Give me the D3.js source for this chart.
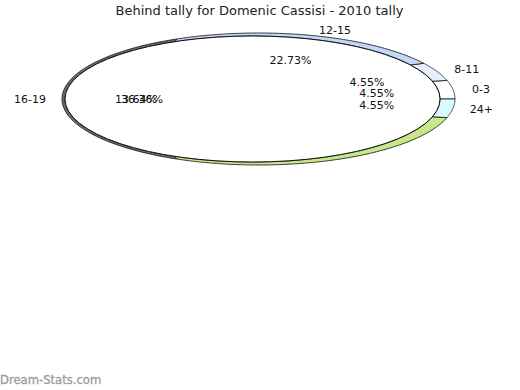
<!DOCTYPE html>
<html><head><meta charset="utf-8">
<script src="https://cdn.jsdelivr.net/npm/d3@7"></script>
<style>body{margin:0;background:#fff}svg{display:block}</style>
</head><body>
<svg id="c" width="520" height="390"></svg>
<script>
const categories = ["0-3", "4-7", "8-11", "12-15", "16-19", "20-23", "24+"];
const values = [1, 0, 1, 5, 8, 6, 1];
const colors = ["#ffffff", "#ffffff", "#e6eefc", "#c4d7f7", "#6e6e6e", "#c8e78a", "#d6fafe"];
const shownLabels = ["0-3", "8-11", "12-15", "16-19", "24+"];
const overlapPct = ["13.64%"];

const svg = d3.select("#c");
const font = "DejaVu Sans, sans-serif";

svg.append("text").attr("x", 259.5).attr("y", 15).attr("text-anchor", "middle")
  .attr("font-family", font).attr("font-size", 13).attr("fill", "#222")
  .text("Behind tally for Domenic Cassisi - 2010 tally");

// pie angles: counter-clockwise from 3 o'clock
const pie = d3.pie().sort(null).value(d => d).startAngle(0).endAngle(2 * Math.PI);
const arcs = pie(values);
const total = d3.sum(values);

const outer = {cx: 258.5, cy: 99, rx: 196.5, ry: 66};
const inner = {cx: 252.5, cy: 99, rx: 187.5, ry: 63};
const pt = (e, t) => [e.cx + e.rx * Math.cos(t), e.cy - e.ry * Math.sin(t)];

const line = d3.line();
arcs.forEach((a, i) => {
  if (a.endAngle - a.startAngle <= 0) return;
  const n = 80, pts = [];
  for (let k = 0; k <= n; k++) pts.push(pt(outer, a.startAngle + (a.endAngle - a.startAngle) * k / n));
  for (let k = n; k >= 0; k--) pts.push(pt(inner, a.startAngle + (a.endAngle - a.startAngle) * k / n));
  svg.append("path").attr("d", line(pts) + "Z")
    .attr("fill", colors[i]).attr("stroke", "#111").attr("stroke-width", 0.8);
});

// top face
svg.append("ellipse").attr("cx", inner.cx).attr("cy", inner.cy).attr("rx", inner.rx).attr("ry", inner.ry)
  .attr("fill", "#fff").attr("stroke", "#111").attr("stroke-width", 1);

// percentage labels
const lab = {cx: 256, cy: 99, rx: 122, ry: 41};
arcs.forEach((a, i) => {
  if (values[i] === 0) return;
  if (categories[i] === "20-23") return;
  const m = (a.startAngle + a.endAngle) / 2;
  let [x, y] = pt(lab, m);
  if (Math.abs(Math.cos(m)) > 0.99 && Math.cos(m) < 0) x += 8;
  svg.append("text").attr("x", x).attr("y", y + 4).attr("text-anchor", "middle")
    .attr("font-family", font).attr("font-size", 11).attr("fill", "#111")
    .text(d3.format(".2f")(values[i] / total * 100) + "%");
});
// overlapping label seen at left
overlapPct.forEach(t => {
  const [x, y] = pt(lab, Math.PI);
  svg.append("text").attr("x", x + 2).attr("y", y + 4).attr("text-anchor", "middle")
    .attr("font-family", font).attr("font-size", 11).attr("fill", "#111").text(t);
});

// category labels
const cl = {cx: 256, cy: 99, rx: 226, ry: 72};
arcs.forEach((a, i) => {
  if (!shownLabels.includes(categories[i])) return;
  const m = (a.startAngle + a.endAngle) / 2;
  const [x, y] = pt(cl, m);
  const t = svg.append("text").attr("y", y + 4)
    .attr("font-family", font).attr("font-size", 11).attr("fill", "#111")
    .text(categories[i]);
  const w = t.node().getComputedTextLength();
  t.attr("x", x - w / 2 * (1 - Math.abs(Math.sin(m))));
});

svg.append("text").attr("x", 0).attr("y", 384)
  .attr("font-family", font).attr("font-size", 11.6).attr("fill", "#9c9c9c")
  .attr("stroke", "#9c9c9c").attr("stroke-width", 0.3)
  .text("Dream-Stats.com");
</script>
</body></html>
